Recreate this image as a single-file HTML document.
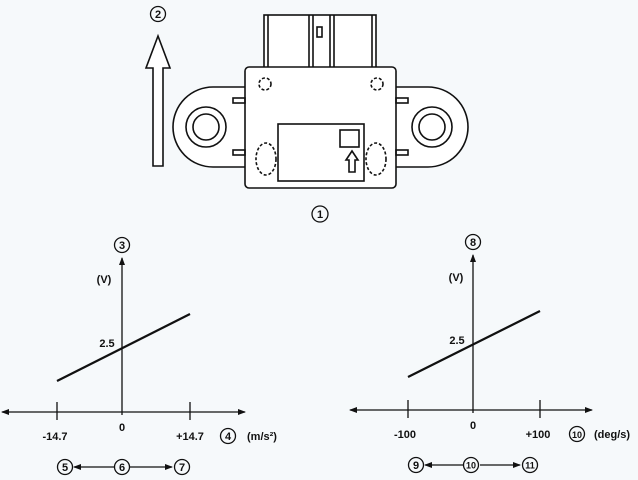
<!DOCTYPE html><html><head><style>body{margin:0;background:#f6f9fb}svg{display:block}text{font-family:"Liberation Sans",sans-serif;font-weight:bold;fill:#111}</style></head><body>
<svg width="638" height="480" viewBox="0 0 638 480">
<defs><marker id="a" markerWidth="8" markerHeight="8" refX="7" refY="4" orient="auto" markerUnits="userSpaceOnUse"><path d="M0,1 L8,4 L0,7Z" fill="#111"/></marker></defs>
<g fill="none" stroke="#111" stroke-width="1.6">
<path d="M153,166 V68 H146 L158,36 L170,68 H163 V166 Z" fill="#fff"/>
<rect x="264" y="15" width="112" height="53" fill="#fff"/>
<path d="M268,15V68M309,15V68M313,15V68M330,15V68M334,15V68M372,15V68"/>
<rect x="317" y="27" width="5" height="10"/>
<path d="M245,87 H213 A40,40 0 0 0 213,167 H245" fill="#fff"/>
<path d="M396,87 H428 A40,40 0 0 1 428,167 H396" fill="#fff"/>
<circle cx="206" cy="127" r="20"/><circle cx="206" cy="127" r="13"/>
<circle cx="432" cy="127" r="20"/><circle cx="432" cy="127" r="13"/>
<rect x="245" y="67" width="151" height="121" rx="4" fill="#fff"/>
<rect x="233" y="98" width="12" height="5"/><rect x="233" y="150" width="12" height="5"/>
<rect x="396" y="98" width="12" height="5"/><rect x="396" y="150" width="12" height="5"/>
<circle cx="265" cy="84" r="6" stroke-dasharray="3,2"/><circle cx="377" cy="84" r="6" stroke-dasharray="3,2"/>
<rect x="278" y="124" width="86" height="57"/>
<rect x="340" y="130" width="19" height="17"/>
<path d="M349,172 V160 H346 L352,151 L358,160 H355 V172 Z"/>
<ellipse cx="266" cy="159" rx="10" ry="16" stroke-dasharray="3,2"/>
<ellipse cx="376" cy="159" rx="10" ry="16" stroke-dasharray="3,2"/>
<g stroke-width="1.3">
<path d="M122,415 V258" marker-end="url(#a)"/>
<path d="M122,412 H245" marker-end="url(#a)"/><path d="M122,412 H2" marker-end="url(#a)"/>
<path d="M57,402V420M190,402V420"/>
<path d="M114,467 H74" marker-end="url(#a)"/>
<path d="M130,467 H172" marker-end="url(#a)"/>
<path d="M473,413 V255" marker-end="url(#a)"/>
<path d="M473,410 H592" marker-end="url(#a)"/><path d="M473,410 H350" marker-end="url(#a)"/>
<path d="M408,400V418M540,400V418"/>
<path d="M463,465 H425" marker-end="url(#a)"/><path d="M480,465 H520" marker-end="url(#a)"/>
<circle cx="158" cy="14" r="7.5"/><circle cx="320" cy="214" r="8"/>
<circle cx="122" cy="245" r="7.5"/><circle cx="228" cy="436" r="7.5"/>
<circle cx="65" cy="467" r="7.5"/><circle cx="122" cy="467" r="7.5"/><circle cx="182" cy="467" r="7.5"/>
<circle cx="473" cy="242" r="7.5"/><circle cx="577" cy="434" r="7.5"/>
<circle cx="416" cy="465" r="7.5"/><circle cx="471" cy="465" r="7.5"/><circle cx="530" cy="465" r="7.5"/>
</g>
<path d="M57,381 L190,314" stroke-width="2.2"/>
<path d="M408,377 L540,311" stroke-width="2.2"/>
</g>
<g font-size="11" text-anchor="middle">
<text x="158" y="18">2</text><text x="320" y="218">1</text>
<text x="122" y="249">3</text><text x="104" y="283">(V)</text>
<text x="107" y="347">2.5</text><text x="122" y="431">0</text>
<text x="55" y="440">-14.7</text><text x="190" y="440">+14.7</text>
<text x="228" y="440">4</text><text x="262" y="440">(m/s²)</text>
<text x="65" y="471">5</text><text x="122" y="471">6</text><text x="182" y="471">7</text>
<text x="473" y="246">8</text><text x="456" y="281">(V)</text>
<text x="457" y="344">2.5</text><text x="473" y="429">0</text>
<text x="405" y="438">-100</text><text x="538" y="438">+100</text>
<text x="577" y="438" font-size="9">10</text><text x="612" y="438">(deg/s)</text>
<text x="416" y="469">9</text><text x="471" y="468.5" font-size="9">10</text><text x="530" y="468.5" font-size="9">11</text>
</g>
</svg></body></html>
